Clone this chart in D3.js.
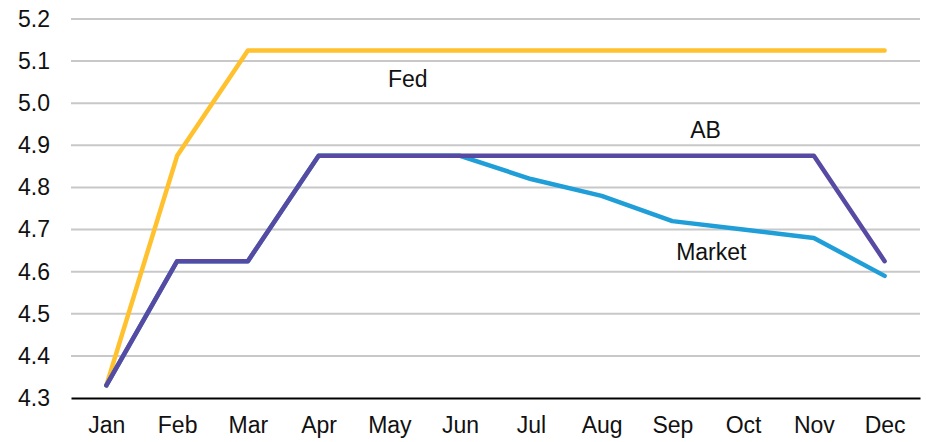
<!DOCTYPE html>
<html>
<head>
<meta charset="utf-8">
<script src="https://cdn.jsdelivr.net/npm/d3@7"></script>
<style>
  body { margin: 0; background: #fff; }
  text { font-family: "Liberation Sans", Arial, sans-serif; }
</style>
</head>
<body>
<div id="chart"></div>
<script>
// data
const months = ["Jan", "Feb", "Mar", "Apr", "May", "Jun", "Jul", "Aug", "Sep", "Oct", "Nov", "Dec"];
const fed = [4.33, 4.875, 5.125, 5.125, 5.125, 5.125, 5.125, 5.125, 5.125, 5.125, 5.125, 5.125];
const market = [4.33, 4.625, 4.625, 4.875, 4.875, 4.875, 4.82, 4.78, 4.72, 4.70, 4.68, 4.59];
const ab = [4.33, 4.625, 4.625, 4.875, 4.875, 4.875, 4.875, 4.875, 4.875, 4.875, 4.875, 4.625];
const yTicks = [4.3, 4.4, 4.5, 4.6, 4.7, 4.8, 4.9, 5.0, 5.1, 5.2];

// series labels: position in month index and value units
const labels = [
  {text: "Fed", i: 4.26, v: 5.058},
  {text: "AB", i: 8.47, v: 4.937},
  {text: "Market", i: 8.55, v: 4.647}
];

const fontSize = 23;

const margin = {top: 19, right: 6, bottom: 44, left: 71},
    width = 926 - margin.left - margin.right,
    height = 442 - margin.top - margin.bottom;

const svg = d3.select("#chart")
  .append("svg")
  .attr("width", width + margin.left + margin.right)
  .attr("height", height + margin.top + margin.bottom)
  .append("g")
  .attr("transform", `translate(${margin.left},${margin.top})`);

const x = d3.scalePoint()
  .domain(months)
  .range([0, width])
  .padding(0.5);

const xi = d3.scaleLinear()
  .domain([0, months.length - 1])
  .range([x(months[0]), x(months[months.length - 1])]);

const y = d3.scaleLinear()
  .domain([4.3, 5.2])
  .range([height, 0]);

// gridlines
svg.append("g")
  .selectAll("line")
  .data(yTicks.slice(1))
  .join("line")
  .attr("x1", 0)
  .attr("x2", width)
  .attr("y1", d => y(d))
  .attr("y2", d => y(d))
  .attr("stroke", "#c8c8c8")
  .attr("stroke-width", 2);

// Y axis labels
const yAxis = svg.append("g")
  .call(d3.axisLeft(y).tickValues(yTicks).tickFormat(d3.format(".1f")).tickSize(0).tickPadding(21));
yAxis.select(".domain").remove();
yAxis.selectAll("text")
  .attr("font-size", fontSize)
  .attr("font-family", "Liberation Sans, Arial, sans-serif")
  .attr("fill", "#111");

// X axis
const xAxis = svg.append("g")
  .attr("transform", `translate(0,${height})`)
  .call(d3.axisBottom(x).tickSize(0).tickPadding(19));
xAxis.select(".domain")
  .attr("stroke", "#000")
  .attr("stroke-width", 2);
xAxis.selectAll("text")
  .attr("font-size", fontSize)
  .attr("font-family", "Liberation Sans, Arial, sans-serif")
  .attr("fill", "#111");

const line = d3.line()
  .x((d, i) => x(months[i]))
  .y(d => y(d));

const series = [
  {values: fed, color: "#FFC12E"},
  {values: market, color: "#1F9ED8"},
  {values: ab, color: "#574AA3"}
];

svg.append("g")
  .selectAll("path")
  .data(series)
  .join("path")
  .attr("d", d => line(d.values))
  .attr("fill", "none")
  .attr("stroke", d => d.color)
  .attr("stroke-width", 4.5)
  .attr("stroke-linejoin", "round")
  .attr("stroke-linecap", "round");

svg.append("g")
  .selectAll("text")
  .data(labels)
  .join("text")
  .attr("x", d => xi(d.i))
  .attr("y", d => y(d.v))
  .attr("dy", "0.35em")
  .attr("text-anchor", "middle")
  .attr("font-size", fontSize)
  .attr("fill", "#111")
  .text(d => d.text);
</script>
</body>
</html>
